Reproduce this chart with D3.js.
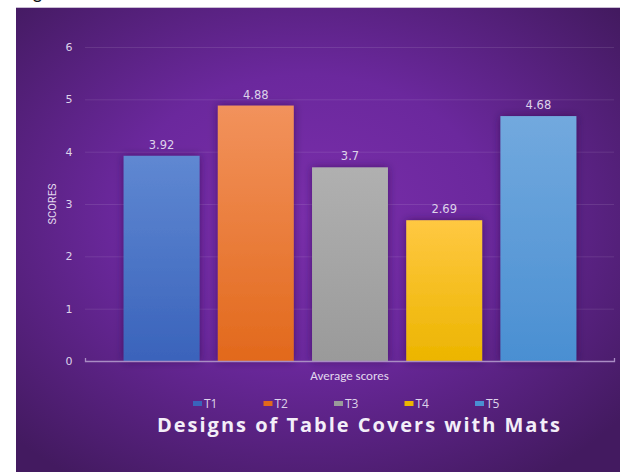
<!DOCTYPE html>
<html>
<head>
  <meta charset="utf-8">
  <script src="https://d3js.org/d3.v7.min.js"></script>
  <style>
    body { margin: 0; background: #fff; }
    svg { display: block; }
  </style>
</head>
<body>
  <div id="chart"></div>
<script>
  // data
  const series = ["T1", "T2", "T3", "T4", "T5"];
  const scores = [3.92, 4.88, 3.7, 2.69, 4.68];
  const yTicks = [0, 1, 2, 3, 4, 5, 6];
  const category = "Average scores";
  const chartTitle = "Designs of Table Covers with Mats";

  // top and bottom shade of each bar
  const barColors = {
    T1: ["#5f88d2", "#3a63bb"],
    T2: ["#f2925c", "#e2691c"],
    T3: ["#b0b0b0", "#9a9a9a"],
    T4: ["#ffc842", "#ecb500"],
    T5: ["#72a9de", "#4a8fd2"]
  };

  const W = 620, H = 472;
  const panel = { x: 16, y: 8 };
  const plot = { left: 85, right: 614, top: 47, bottom: 361 };

  const svg = d3.select("#chart").append("svg")
    .attr("width", W)
    .attr("height", H);

  const defs = svg.append("defs");

  const bg = defs.append("radialGradient")
    .attr("id", "bg")
    .attr("cx", "48%").attr("cy", "45%").attr("r", "68%");
  bg.append("stop").attr("offset", "0%").attr("stop-color", "#7a2eab");
  bg.append("stop").attr("offset", "45%").attr("stop-color", "#6b289d");
  bg.append("stop").attr("offset", "100%").attr("stop-color", "#431a60");

  series.forEach(s => {
    const g = defs.append("linearGradient")
      .attr("id", "g" + s)
      .attr("x1", 0).attr("y1", 0).attr("x2", 0).attr("y2", 1);
    g.append("stop").attr("offset", "0%").attr("stop-color", barColors[s][0]);
    g.append("stop").attr("offset", "100%").attr("stop-color", barColors[s][1]);
  });

  const shadow = defs.append("filter")
    .attr("id", "shadow")
    .attr("x", "-20%").attr("y", "-20%").attr("width", "140%").attr("height", "140%");
  shadow.append("feDropShadow")
    .attr("dx", 0).attr("dy", 0)
    .attr("stdDeviation", 4)
    .attr("flood-color", "#2a0d40")
    .attr("flood-opacity", 0.55);

  // cut-off heading above the chart (only the descender shows)
  svg.append("text")
    .attr("x", 19)
    .attr("y", -1)
    .style("font-family", "Carlito, Calibri, 'Liberation Sans', sans-serif")
    .style("font-size", "20px")
    .style("fill", "#111")
    .text("Fig");

  // purple panel
  svg.append("rect")
    .attr("x", panel.x).attr("y", panel.y)
    .attr("width", W - panel.x).attr("height", H - panel.y)
    .attr("fill", "url(#bg)");
  svg.append("line")
    .attr("x1", panel.x).attr("x2", W)
    .attr("y1", panel.y - 0.5).attr("y2", panel.y - 0.5)
    .attr("stroke", "#c9bdd3");

  const y = d3.scaleLinear().domain([0, 6]).range([plot.bottom, plot.top]);

  const x = d3.scaleBand()
    .domain(series)
    .range([114.5, 585.5])
    .paddingInner(0.194)
    .paddingOuter(0.097);

  // gridlines and tick labels
  const yAxis = svg.append("g")
    .attr("transform", `translate(${plot.left},0)`)
    .call(d3.axisLeft(y).tickValues(yTicks).tickFormat(d3.format("d"))
      .tickSize(-(plot.right - plot.left)).tickPadding(13));
  yAxis.select(".domain").remove();
  yAxis.selectAll(".tick line")
    .attr("stroke", "#ffffff")
    .attr("stroke-opacity", d => d === 0 ? 0 : 0.1);
  yAxis.selectAll(".tick text")
    .attr("text-anchor", "middle")
    .attr("dx", "-3")
    .style("font-family", "'DejaVu Sans', sans-serif")
    .style("font-size", "11px")
    .style("fill", "#ddd3ea");

  // bars
  svg.append("g").selectAll("rect")
    .data(series)
    .join("rect")
    .attr("x", d => x(d))
    .attr("y", (d, i) => y(scores[i]))
    .attr("width", x.bandwidth())
    .attr("height", (d, i) => y(0) - y(scores[i]))
    .attr("fill", d => `url(#g${d})`)
    .attr("filter", "url(#shadow)");

  // value labels
  svg.append("g").selectAll("text")
    .data(series)
    .join("text")
    .attr("x", d => x(d) + x.bandwidth() / 2)
    .attr("y", (d, i) => y(scores[i]) - 7)
    .attr("text-anchor", "middle")
    .style("font-family", "'DejaVu Sans', sans-serif")
    .style("font-size", "11.5px")
    .style("fill", "#ddd3ea")
    .text((d, i) => scores[i]);

  // category axis
  const xAxis = svg.append("g")
    .attr("transform", `translate(0,${plot.bottom})`)
    .call(d3.axisBottom(d3.scaleBand().domain([category]).range([plot.left, plot.right]))
      .tickSize(-3).tickSizeOuter(-3).tickFormat(""));
  xAxis.selectAll(".tick").remove();
  xAxis.select(".domain")
    .attr("stroke", "#a98cc4")
    .attr("stroke-width", 1.3);

  svg.append("text")
    .attr("x", (plot.left + plot.right) / 2)
    .attr("y", plot.bottom + 19)
    .attr("text-anchor", "middle")
    .style("font-family", "Carlito, Calibri, 'Open Sans', sans-serif")
    .style("font-size", "13px")
    .style("fill", "#e2d9ee")
    .text(category);

  svg.append("text")
    .attr("transform", `translate(56,${(plot.top + plot.bottom) / 2}) rotate(-90)`)
    .attr("text-anchor", "middle")
    .style("font-family", "'Liberation Sans Narrow', 'Roboto', sans-serif")
    .style("font-size", "11px")
    .style("fill", "#e2d9ee")
    .text("SCORES");

  // legend
  const legend = svg.append("g").selectAll("g")
    .data(series)
    .join("g")
    .attr("transform", (d, i) => `translate(${193 + i * 70.5},401)`);
  legend.append("rect")
    .attr("width", 9).attr("height", 5)
    .attr("fill", d => barColors[d][1]);
  legend.append("text")
    .attr("x", 11).attr("y", 7)
    .style("font-family", "'Open Sans', sans-serif")
    .style("font-size", "12px")
    .style("fill", "#ddd3ea")
    .text(d => d);

  // title
  svg.append("text")
    .attr("x", 157)
    .attr("y", 432)
    .attr("textLength", 403)
    .attr("lengthAdjust", "spacing")
    .style("font-family", "'Open Sans', sans-serif")
    .style("font-weight", "bold")
    .style("font-size", "20px")
    .style("fill", "#f3eef8")
    .text(chartTitle);
</script>
</body>
</html>
